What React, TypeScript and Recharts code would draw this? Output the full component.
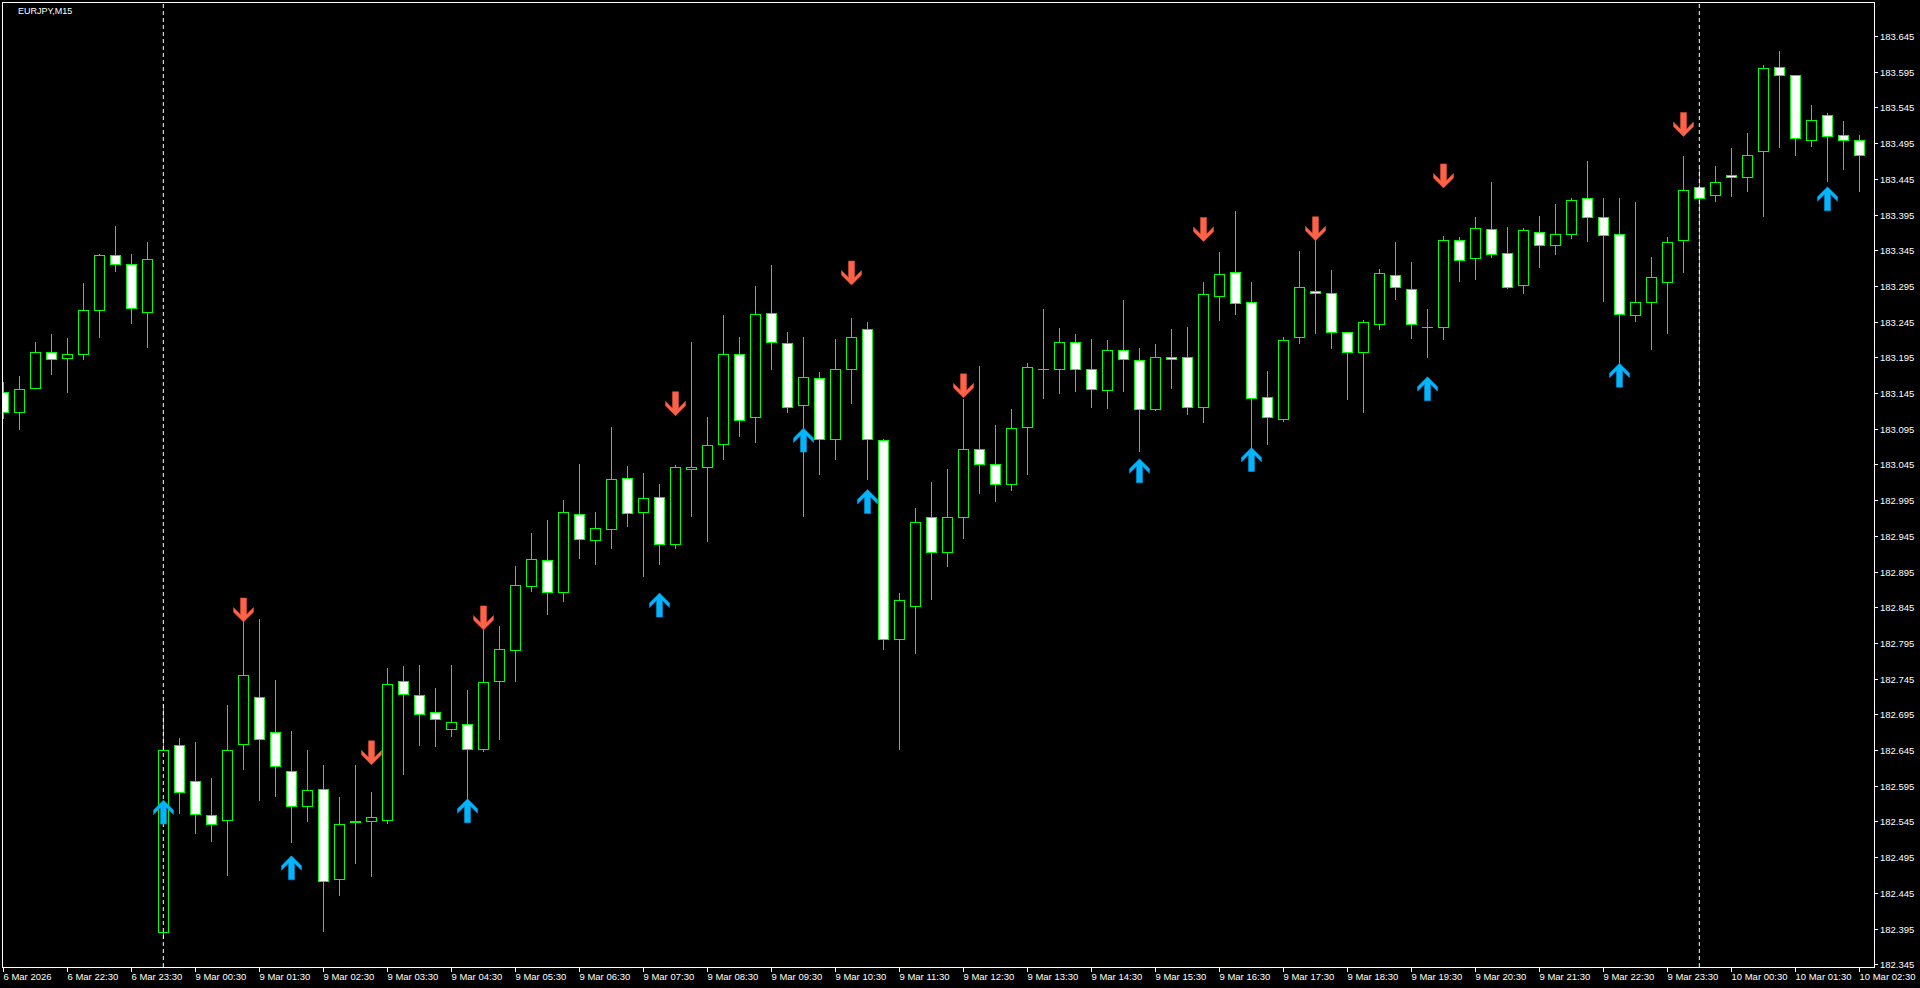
import React from 'react';
import { ComposedChart, Bar, Scatter, XAxis, YAxis, ReferenceLine } from 'recharts';

// ---- data (EURJPY M15, bar 0 = 6 Mar 21:30) ----
const opens = [
  183.146, 183.118, 183.152, 183.202, 183.194, 183.199, 183.261, 183.338, 183.325, 183.258,
  182.390, 182.652, 182.601, 182.554, 182.547, 182.653, 182.719, 182.670, 182.615, 182.567,
  182.591, 182.464, 182.544, 182.545, 182.547, 182.741, 182.722, 182.698, 182.675, 182.682,
  182.647, 182.741, 182.785, 182.874, 182.911, 182.866, 182.975, 182.939, 182.954, 183.026,
  182.979, 183.000, 182.933, 183.038, 183.041, 183.073, 183.199, 183.111, 183.257, 183.215,
  183.128, 183.166, 183.080, 183.178, 183.234, 183.079, 182.800, 182.846, 182.972, 182.923,
  182.972, 183.066, 183.045, 183.017, 183.098, 183.178, 183.178, 183.216, 183.178, 183.149,
  183.205, 183.191, 183.122, 183.195, 183.195, 183.125, 183.281, 183.314, 183.272, 183.139,
  183.108, 183.223, 183.288, 183.285, 183.230, 183.202, 183.241, 183.310, 183.290, 183.237,
  183.238, 183.359, 183.334, 183.374, 183.341, 183.296, 183.371, 183.352, 183.367, 183.418,
  183.392, 183.367, 183.254, 183.273, 183.300, 183.359, 183.433, 183.422, 183.450, 183.448,
  183.484, 183.601, 183.590, 183.500, 183.534, 183.506, 183.500,
];
const highs = [
  183.160, 183.169, 183.216, 183.228, 183.222, 183.299, 183.340, 183.379, 183.340, 183.356,
  182.709, 182.662, 182.656, 182.606, 182.708, 182.825, 182.828, 182.743, 182.672, 182.645,
  182.624, 182.579, 182.624, 182.586, 182.760, 182.763, 182.764, 182.732, 182.764, 182.729,
  182.814, 182.819, 182.903, 182.949, 182.967, 182.995, 183.046, 182.978, 183.097, 183.043,
  183.033, 183.018, 183.044, 183.216, 183.111, 183.254, 183.223, 183.295, 183.324, 183.230,
  183.223, 183.175, 183.220, 183.250, 183.244, 183.080, 182.865, 182.984, 183.020, 183.038,
  183.136, 183.183, 183.100, 183.123, 183.187, 183.263, 183.236, 183.228, 183.221, 183.219,
  183.275, 183.208, 183.213, 183.234, 183.237, 183.300, 183.342, 183.400, 183.300, 183.176,
  183.223, 183.344, 183.359, 183.317, 183.230, 183.247, 183.319, 183.356, 183.328, 183.263,
  183.365, 183.363, 183.392, 183.440, 183.378, 183.376, 183.393, 183.410, 183.418, 183.470,
  183.418, 183.418, 183.413, 183.336, 183.364, 183.477, 183.460, 183.463, 183.488, 183.509,
  183.604, 183.624, 183.590, 183.548, 183.537, 183.526, 183.506,
];
const lows = [
  183.110, 183.094, 183.152, 183.172, 183.147, 183.192, 183.224, 183.316, 183.243, 183.210,
  182.382, 182.557, 182.529, 182.518, 182.470, 182.619, 182.575, 182.581, 182.516, 182.546,
  182.391, 182.442, 182.487, 182.468, 182.543, 182.612, 182.652, 182.650, 182.665, 182.577,
  182.643, 182.661, 182.742, 182.867, 182.836, 182.853, 182.914, 182.906, 182.928, 182.959,
  182.889, 182.905, 182.928, 182.973, 182.938, 183.052, 183.085, 183.077, 183.179, 183.119,
  182.973, 183.032, 183.052, 183.131, 183.025, 182.787, 182.647, 182.781, 182.857, 182.903,
  182.942, 183.005, 182.994, 183.009, 183.032, 183.138, 183.145, 183.148, 183.126, 183.124,
  183.148, 183.064, 183.121, 183.152, 183.115, 183.105, 183.247, 183.256, 183.067, 183.074,
  183.106, 183.215, 183.229, 183.208, 183.136, 183.119, 183.234, 183.277, 183.222, 183.196,
  183.220, 183.302, 183.304, 183.335, 183.292, 183.285, 183.322, 183.339, 183.362, 183.358,
  183.274, 183.187, 183.246, 183.206, 183.229, 183.315, 183.156, 183.414, 183.421, 183.428,
  183.393, 183.489, 183.479, 183.491, 183.442, 183.459, 183.428,
];
const closes = [
  183.118, 183.150, 183.202, 183.192, 183.199, 183.261, 183.338, 183.325, 183.264, 183.332,
  182.645, 182.586, 182.555, 182.541, 182.645, 182.750, 182.661, 182.622, 182.567, 182.589,
  182.461, 182.542, 182.545, 182.551, 182.738, 182.724, 182.696, 182.688, 182.684, 182.647,
  182.740, 182.786, 182.876, 182.912, 182.866, 182.978, 182.940, 182.956, 183.024, 182.977,
  182.998, 182.934, 183.041, 183.042, 183.072, 183.199, 183.107, 183.255, 183.217, 183.126,
  183.167, 183.080, 183.178, 183.223, 183.080, 182.801, 182.855, 182.965, 182.923, 182.972,
  183.066, 183.045, 183.017, 183.096, 183.181, 183.179, 183.216, 183.178, 183.150, 183.205,
  183.192, 183.122, 183.195, 183.192, 183.125, 183.283, 183.311, 183.271, 183.138, 183.111,
  183.219, 183.293, 183.285, 183.231, 183.203, 183.244, 183.313, 183.293, 183.241, 183.237,
  183.359, 183.331, 183.376, 183.339, 183.293, 183.373, 183.352, 183.367, 183.416, 183.391,
  183.366, 183.255, 183.273, 183.307, 183.357, 183.430, 183.418, 183.440, 183.447, 183.478,
  183.600, 183.591, 183.502, 183.528, 183.505, 183.499, 183.478,
];

// signal arrows (bar index, price at arrow centre)
const upBars = [10, 18, 29, 41, 50, 54, 71, 78, 89, 101, 114];
const upPrices = [182.558, 182.480, 182.560, 182.848, 183.079, 182.993, 183.036, 183.052, 183.151, 183.170, 183.417];
const downBars = [15, 23, 30, 42, 53, 60, 75, 82, 90, 105];
const downPrices = [182.841, 182.641, 182.830, 183.130, 183.313, 183.155, 183.374, 183.375, 183.449, 183.521];

// period separators (bar index of day start)
const separatorBars = [10, 106];

// axis ticks
const timeTickBars = [0, 4, 8, 12, 16, 20, 24, 28, 32, 36, 40, 44, 48, 52, 56, 60, 64, 68, 72, 76, 80, 84, 88, 92, 96, 100, 104, 108, 112, 116];
const timeTickLabels = [
  '6 Mar 2026', '6 Mar 22:30', '6 Mar 23:30', '9 Mar 00:30', '9 Mar 01:30', '9 Mar 02:30', '9 Mar 03:30',
  '9 Mar 04:30', '9 Mar 05:30', '9 Mar 06:30', '9 Mar 07:30', '9 Mar 08:30', '9 Mar 09:30', '9 Mar 10:30',
  '9 Mar 11:30', '9 Mar 12:30', '9 Mar 13:30', '9 Mar 14:30', '9 Mar 15:30', '9 Mar 16:30', '9 Mar 17:30',
  '9 Mar 18:30', '9 Mar 19:30', '9 Mar 20:30', '9 Mar 21:30', '9 Mar 22:30', '9 Mar 23:30', '10 Mar 00:30',
  '10 Mar 01:30', '10 Mar 02:30',
];
const priceTicks = [
  183.645, 183.595, 183.545, 183.495, 183.445, 183.395, 183.345, 183.295, 183.245, 183.195,
  183.145, 183.095, 183.045, 182.995, 182.945, 182.895, 182.845, 182.795, 182.745, 182.695,
  182.645, 182.595, 182.545, 182.495, 182.445, 182.395, 182.345,
];

const candles = opens.map((o, i) => ({ i, o, h: highs[i], l: lows[i], c: closes[i] }));
const upData = upBars.map((i, k) => ({ i, p: upPrices[k] }));
const downData = downBars.map((i, k) => ({ i, p: downPrices[k] }));

const GREEN = '#00FF00';
const FONT = '"Liberation Sans", Arial, sans-serif';

const Candle = (props: any) => {
  const { x, y, width, height, payload } = props;
  if (x == null || y == null || !payload) return null;
  const top = Math.min(y, y + height);
  const H = Math.abs(height);
  const { o, h, l, c } = payload;
  const k = h > l ? H / (h - l) : 0;
  const cx = Math.round(x + width / 2);
  const yO = top + (h - o) * k;
  const yC = top + (h - c) * k;
  const bTop = Math.round(Math.min(yO, yC));
  const bBot = Math.round(Math.max(yO, yC));
  const bull = c >= o;
  return (
    <g>
      <line x1={cx + 0.5} x2={cx + 0.5} y1={Math.round(top)} y2={Math.round(top + H) + 1} stroke={GREEN} strokeWidth={1} />
      {bBot - bTop < 1 ? (
        <line x1={cx - 5} x2={cx + 6} y1={bTop + 0.5} y2={bTop + 0.5} stroke={GREEN} strokeWidth={1} />
      ) : (
        <rect x={cx - 4.5} y={bTop + 0.5} width={10} height={bBot - bTop} fill={bull ? '#000000' : '#FFFFFF'} stroke={GREEN} strokeWidth={1} />
      )}
    </g>
  );
};

const arrowPts = [[0, -12], [10, -2], [10, 2.5], [3, -4.5], [3, 12], [-3, 12], [-3, -4.5], [-10, 2.5], [-10, -2]];

const UpArrow = (props: any) => {
  const { cx, cy } = props;
  if (cx == null || cy == null) return null;
  const px = Math.round(cx) + 0.5;
  return <polygon points={arrowPts.map(([a, b]) => `${px + a},${cy + b}`).join(' ')} fill="#00B7FF" stroke="#0A8FD0" strokeWidth={0.6} />;
};
const DownArrow = (props: any) => {
  const { cx, cy } = props;
  if (cx == null || cy == null) return null;
  const px = Math.round(cx) + 0.5;
  return <polygon points={arrowPts.map(([a, b]) => `${px + a},${cy - b}`).join(' ')} fill="#FF6347" stroke="#D84C30" strokeWidth={0.6} />;
};

const TimeTick = (props: any) => {
  const { x, y, payload } = props;
  const idx = timeTickBars.indexOf(payload.value);
  const label = idx >= 0 ? timeTickLabels[idx] : '';
  const px = Math.round(x) + 0.5;
  return (
    <g>
      <line x1={px} x2={px} y1={y} y2={y + 5} stroke="#FFFFFF" />
      <text x={px} y={y + 9} fill="#FFFFFF" fontSize={9.5} fontFamily={FONT} textAnchor="start" dominantBaseline="central">
        {label}
      </text>
    </g>
  );
};

const PriceTick = (props: any) => {
  const { x, y, payload } = props;
  const py = Math.round(y) + 0.5;
  return (
    <g>
      <line x1={x} x2={x + 4} y1={py} y2={py} stroke="#FFFFFF" />
      <text x={x + 6} y={py} fill="#FFFFFF" fontSize={9.5} fontFamily={FONT} textAnchor="start" dominantBaseline="central">
        {Number(payload.value).toFixed(3)}
      </text>
    </g>
  );
};

const X_MIN = -0.08125;
const X_MAX = 116.91875;
const Y_MIN = 182.34108;
const Y_MAX = 183.69262;

export default function App() {
  return (
    <div style={{ position: 'absolute', left: 0, top: 0, width: 1920, height: 988, background: '#000000', overflow: 'hidden' }}>
      <ComposedChart
        width={1920}
        height={988}
        data={candles}
        margin={{ top: 2, right: 0, left: 2, bottom: 0 }}
      >
        <XAxis
          xAxisId="t"
          type="number"
          dataKey="i"
          domain={[X_MIN, X_MAX]}
          allowDataOverflow
          ticks={timeTickBars}
          interval={0}
          tick={<TimeTick />}
          tickLine={false}
          axisLine={false}
          tickSize={0}
          tickMargin={0}
          height={21}
        />
        <YAxis
          yAxisId="p"
          orientation="right"
          type="number"
          domain={[Y_MIN, Y_MAX]}
          allowDataOverflow
          ticks={priceTicks}
          interval={0}
          tick={<PriceTick />}
          tickLine={false}
          axisLine={false}
          tickSize={0}
          tickMargin={0}
          width={46}
        />
        {separatorBars.map((b) => (
          <ReferenceLine key={b} xAxisId="t" yAxisId="p" x={b} stroke="#FFFFFF" strokeDasharray="4 3" strokeWidth={1} />
        ))}
        <Bar
          xAxisId="t"
          yAxisId="p"
          dataKey={(d: any) => [d.l, d.h]}
          barSize={10}
          shape={<Candle />}
          isAnimationActive={false}
        />
        <Scatter xAxisId="t" yAxisId="p" data={upData} dataKey="p" shape={<UpArrow />} isAnimationActive={false} />
        <Scatter xAxisId="t" yAxisId="p" data={downData} dataKey="p" shape={<DownArrow />} isAnimationActive={false} />
      </ComposedChart>
      <div
        style={{
          position: 'absolute', left: 2, top: 2, width: 1873, height: 966, boxSizing: 'border-box',
          border: '1px solid #FFFFFF', pointerEvents: 'none',
        }}
      />
      <div
        style={{
          position: 'absolute', left: 18, top: 5, fontSize: 9, lineHeight: '12px', color: '#FFFFFF',
          fontFamily: FONT, whiteSpace: 'nowrap',
        }}
      >
        EURJPY,M15
      </div>
    </div>
  );
}
